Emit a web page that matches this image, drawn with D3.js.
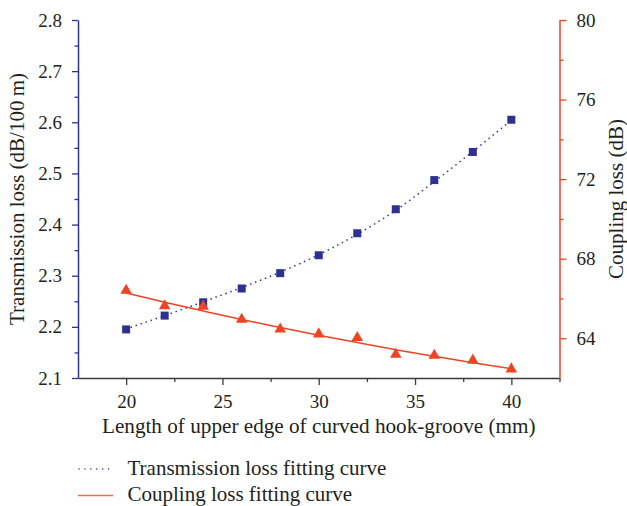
<!DOCTYPE html>
<html><head><meta charset="utf-8">
<script src="https://cdn.jsdelivr.net/npm/d3@7"></script>
<style>body{margin:0;background:#fff}svg text{font-family:"Liberation Serif",serif !important;fill:#231f20}</style>
</head><body><svg id="c" width="627" height="506" font-family="Liberation Serif"></svg>
<script>
const xValues = [20,22,24,26,28,30,32,34,36,38,40];
const transmission = [2.195,2.222,2.248,2.275,2.305,2.340,2.383,2.430,2.487,2.542,2.605];
const transmissionFit = [2.196,2.222,2.249,2.277,2.307,2.341,2.381,2.428,2.484,2.543,2.604];
const coupling = [66.40,65.62,65.60,64.95,64.45,64.21,64.03,63.19,63.14,62.89,62.45];
const couplingFit = [66.28,65.81,65.37,64.94,64.54,64.15,63.78,63.42,63.09,62.77,62.47];
const xTicks = [20,25,30,35,40];
const leftTicks = [2.1,2.2,2.3,2.4,2.5,2.6,2.7,2.8];
const rightTicks = [64,68,72,76,80];
const xTitle = "Length of upper edge of curved hook-groove (mm)";
const leftTitle = "Transmission loss (dB/100\u2009m)";
const rightTitle = "Coupling loss (dB)";
const legendLabels = ["Transmission loss fitting curve","Coupling loss fitting curve"];

const BLUE = "#2e3192", RED = "#f04323", AX = "#3a3a3a";
const FONT = "Liberation Serif";
const L = 78, R = 559.5, T = 20, B = 378;
const svg = d3.select("#c");
const x = d3.scaleLinear().domain([17.5,42.5]).range([L,R]);
const yL = d3.scaleLinear().domain([2.1,2.8]).range([B,T]);
const yR = d3.scaleLinear().domain([62,80]).range([B,T]);

function styleAxis(g,color){
  g.attr("font-family",FONT).attr("font-size",19);
  g.select(".domain").attr("stroke",color).attr("stroke-width",1.5);
  g.selectAll(".tick line").attr("stroke",color).attr("stroke-width",1.3);
  g.selectAll(".tick text").attr("fill","#231f20").attr("font-family",FONT).attr("font-size",19);
}
function minor(g){ g.selectAll(".tick text").remove(); g.select(".domain").remove(); }

// bottom axis
svg.append("g").attr("transform",`translate(0,${B})`)
  .call(d3.axisBottom(x).tickValues([22.5,27.5,32.5,37.5,42.5]).tickSize(4))
  .call(minor).call(g=>g.selectAll("line").attr("stroke",AX).attr("stroke-width",1.3));
svg.append("g").attr("transform",`translate(0,${B})`)
  .call(d3.axisBottom(x).tickValues(xTicks).tickSize(7).tickSizeOuter(0).tickPadding(10))
  .call(g=>styleAxis(g,AX));

// left axis
svg.append("g").attr("transform",`translate(${L},0)`)
  .call(d3.axisLeft(yL).tickValues(d3.range(2.15,2.8,0.1)).tickSize(3.5))
  .call(minor).call(g=>g.selectAll("line").attr("stroke",BLUE).attr("stroke-width",1.3));
svg.append("g").attr("transform",`translate(${L},0)`)
  .call(d3.axisLeft(yL).tickValues(leftTicks).tickFormat(d3.format(".1f")).tickSize(6).tickSizeOuter(0).tickPadding(10))
  .call(g=>styleAxis(g,BLUE));

// right axis
svg.append("g").attr("transform",`translate(${R},0)`)
  .call(d3.axisRight(yR).tickValues([66,70,74,78]).tickSize(4))
  .call(minor).call(g=>g.selectAll("line").attr("stroke",RED).attr("stroke-width",1.3));
svg.append("g").attr("transform",`translate(${R},0)`)
  .call(d3.axisRight(yR).tickValues(rightTicks).tickSize(7).tickSizeOuter(0).tickPadding(10))
  .call(g=>styleAxis(g,RED));

// fit lines
const tFit = xValues.map((v,i)=>[v,transmissionFit[i]]);
const cFit = xValues.map((v,i)=>[v,couplingFit[i]]);
svg.append("path").datum(tFit).attr("fill","none").attr("stroke",BLUE).attr("stroke-width",1.6)
  .attr("stroke-dasharray","0.1,5.2").attr("stroke-linecap","round")
  .attr("d",d3.line().x(d=>x(d[0])).y(d=>yL(d[1])).curve(d3.curveMonotoneX));
svg.append("path").datum(cFit).attr("fill","none").attr("stroke",RED).attr("stroke-width",1.5)
  .attr("d",d3.line().x(d=>x(d[0])).y(d=>yR(d[1])).curve(d3.curveMonotoneX));

// markers
svg.append("g").selectAll("rect").data(xValues).join("rect")
  .attr("x",(d)=>x(d)-4).attr("y",(d,i)=>yL(transmission[i])-4).attr("width",8).attr("height",8)
  .attr("fill",BLUE);
svg.append("g").selectAll("path").data(xValues).join("path")
  .attr("transform",(d,i)=>`translate(${x(d)},${yR(coupling[i])})`)
  .attr("d",d3.symbol(d3.symbolTriangle,58)).attr("fill",RED);

// titles
svg.append("text").attr("x",(L+R)/2).attr("y",433).attr("text-anchor","middle").attr("font-family",FONT).attr("font-size",21.2).text(xTitle);
svg.append("text").attr("transform",`translate(24,${(T+B)/2}) rotate(-90)`).attr("text-anchor","middle").attr("font-family",FONT).attr("font-size",21).text(leftTitle);
svg.append("text").attr("transform",`translate(623,${(T+B)/2}) rotate(-90)`).attr("text-anchor","middle").attr("font-family",FONT).attr("font-size",21).text(rightTitle);

// legend
const lg = svg.append("g");
const ly = [469,495.5];
lg.append("line").attr("x1",79).attr("x2",113).attr("y1",ly[0]).attr("y2",ly[0]).attr("stroke",BLUE).attr("stroke-width",1.4).attr("stroke-dasharray","0.1,5.8").attr("stroke-linecap","round");
lg.append("line").attr("x1",78).attr("x2",113).attr("y1",ly[1]).attr("y2",ly[1]).attr("stroke",RED).attr("stroke-width",1.5).attr("opacity",0.8);
legendLabels.forEach((t,i)=>lg.append("text").attr("x",127.5).attr("y",ly[i]+5.5).attr("font-family",FONT).attr("font-size",21).text(t));
</script></body></html>
